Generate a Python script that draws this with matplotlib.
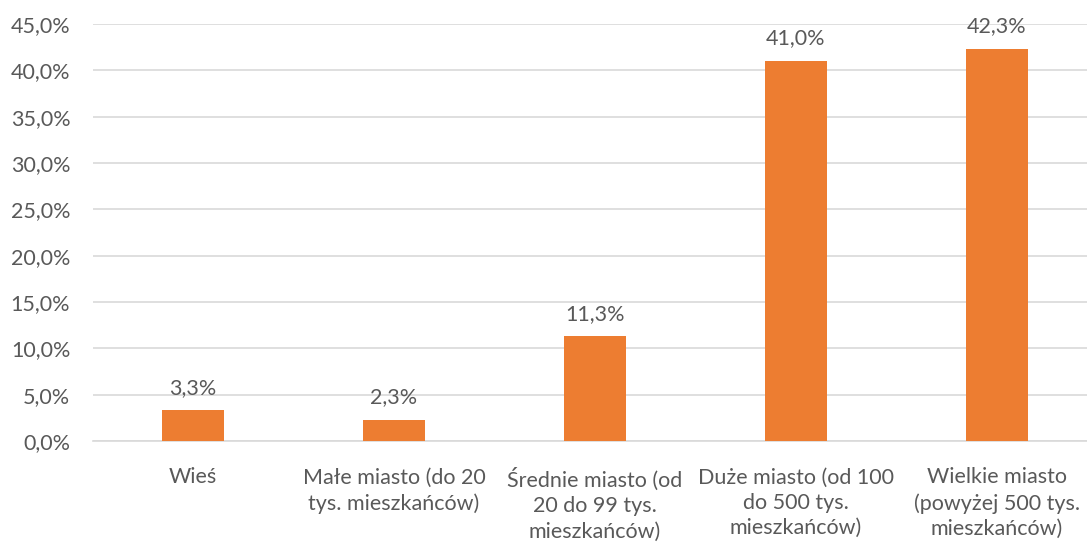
import matplotlib
matplotlib.use("Agg")
import matplotlib.pyplot as plt
from matplotlib.ticker import FuncFormatter, MultipleLocator

categories = [
    "Wieś",
    "Małe miasto (do 20\ntys. mieszkańców)",
    "Średnie miasto (od\n20 do 99 tys.\nmieszkańców)",
    "Duże miasto (od 100\ndo 500 tys.\nmieszkańców)",
    "Wielkie miasto\n(powyżej 500 tys.\nmieszkańców)",
]
values = [3.3, 2.3, 11.3, 41.0, 42.3]

text_color = "#595959"
bar_color = "#ED7D31"
grid_color = "#D9D9D9"

plt.rcParams['font.family'] = ['Lato', 'DejaVu Sans']

fig = plt.figure(figsize=(10.87, 5.42), dpi=100)
ax = fig.add_axes([92.5 / 1087, 1 - 441 / 542, 1005 / 1087, (441 - 24) / 542])

x = list(range(len(categories)))
bars = ax.bar(x, values, width=0.31, color=bar_color, zorder=3)

for xi, v in zip(x, values):
    ax.annotate(f"{v:.1f}%".replace(".", ","), (xi, v), xytext=(0, 9),
                textcoords="offset points", ha="center", va="bottom",
                fontsize=15.5, color=text_color)

ax.set_xlim(-0.5, len(categories) - 0.5)
ax.set_ylim(0, 45)
ax.yaxis.set_major_locator(MultipleLocator(5))
ax.yaxis.set_major_formatter(FuncFormatter(lambda v, p: f"{v:.1f}%".replace(".", ",")))
ax.grid(axis="y", color=grid_color, linewidth=1.2, zorder=0)

ax.set_xticks(x)
ax.set_xticklabels(categories, fontsize=15.5, color=text_color, linespacing=1.34)
ax.tick_params(axis="x", length=0, pad=19)
ax.tick_params(axis="y", length=0, pad=16, labelsize=15.5, labelcolor=text_color)

for s in ["top", "right", "left"]:
    ax.spines[s].set_visible(False)
ax.spines["bottom"].set_color(grid_color)
ax.spines["bottom"].set_linewidth(1.2)

fig.savefig("out.png", dpi=100)
